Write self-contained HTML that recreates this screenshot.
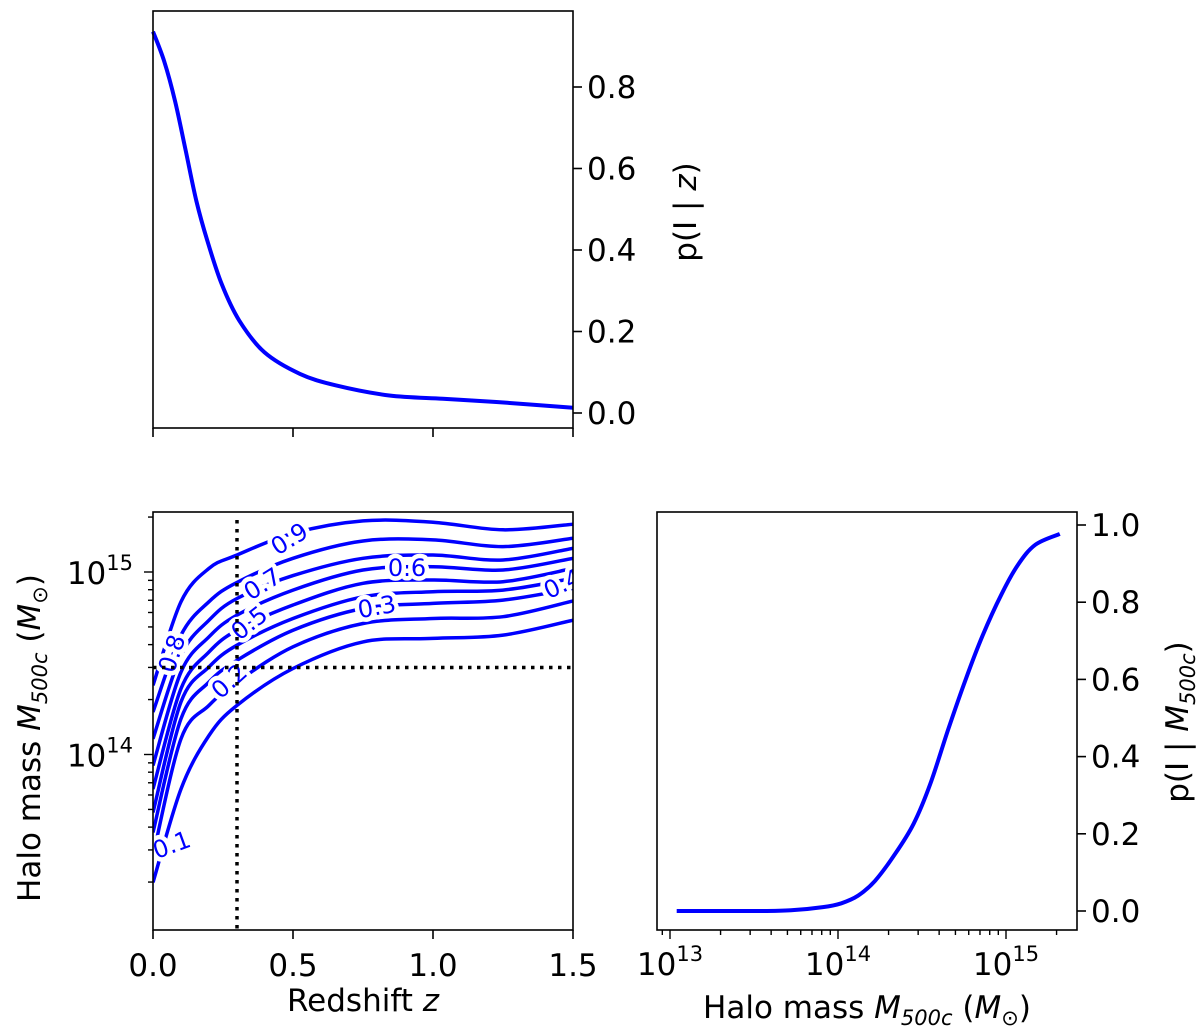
<!DOCTYPE html>
<html><head><meta charset="utf-8"><style>
html,body{margin:0;padding:0;background:#fff;}
svg{display:block;font-family:"DejaVu Sans","Liberation Sans",sans-serif;}
</style></head><body>
<svg id="fig" width="1200" height="1031" viewBox="0 0 1200 1031"></svg>
<script>
// ---- data ----
const topZ = [0,0.04,0.079,0.117,0.155,0.194,0.245,0.308,0.398,0.525,0.652,0.844,1.035,1.226,1.5];
const topP = [0.936,0.863,0.765,0.643,0.52,0.423,0.317,0.227,0.149,0.096,0.068,0.043,0.035,0.027,0.013];
const massLog = [13.04,13.5,13.72,13.91,14.02,14.12,14.22,14.34,14.45,14.55,14.655,14.76,14.86,14.97,15.07,15.175,15.32];
const massP = [0,0,0.002,0.01,0.02,0.04,0.078,0.148,0.226,0.33,0.469,0.6,0.713,0.818,0.896,0.949,0.977];
const contourLevels = [0.9,0.8,0.7,0.6,0.5,0.4,0.3,0.2,0.1];
const contourZ = [0,0.1,0.2,0.3,0.5,0.75,1.0,1.25,1.5];
const c09 = [14.379,14.837,15.020,15.093,15.212,15.280,15.273,15.231,15.262];
const c08 = [14.233,14.654,14.837,14.943,15.075,15.170,15.176,15.139,15.185];
const c07 = [14.086,14.544,14.736,14.855,14.980,15.075,15.093,15.066,15.130];
const c06 = [13.940,14.452,14.645,14.764,14.901,15.011,15.029,15.011,15.075];
const c05 = [13.811,14.361,14.562,14.681,14.819,14.938,14.956,14.947,15.020];
const c04 = [13.683,14.288,14.480,14.599,14.745,14.864,14.892,14.901,14.965];
const c03 = [13.573,14.196,14.397,14.516,14.681,14.800,14.828,14.846,14.910];
const c02 = [13.445,14.086,14.269,14.397,14.590,14.718,14.745,14.755,14.841];
const c01 = [13.299,13.811,14.104,14.269,14.471,14.617,14.636,14.654,14.736];
const contourMasses = [c09,c08,c07,c06,c05,c04,c03,c02,c01];
const cutZ = 0.3, cutLogM = 14.477;
const zTicks = [0,0.5,1.0,1.5];
const zTickLabels = ['0.0','0.5','1.0','1.5'];
const pTicksTop = [0,0.2,0.4,0.6,0.8];
const pTicksRight = [0,0.2,0.4,0.6,0.8,1.0];
const decadesLeft = [14,15];
const decadesRight = [13,14,15];

const NS='http://www.w3.org/2000/svg';
const svg=document.getElementById('fig');
function el(tag,attrs,parent){const e=document.createElementNS(NS,tag);for(const k in attrs)e.setAttribute(k,attrs[k]);(parent||svg).appendChild(e);return e;}
const FS=31, SS=21;

const L={x0:153,x1:573,y0:512,y1:930};
const T={x0:153,x1:573,y0:11,y1:428};
const R={x0:657,x1:1077,y0:512,y1:930};
const xz=z=>L.x0+(z/1.5)*(L.x1-L.x0);
const yLogL=m=>572-(m-15)*182.5;
const yTop=p=>413-p*407.5;
const xLogR=m=>670+(m-13)*168;
const yR=p=>911-p*386;

function smooth(pts){
  let d='M'+pts[0][0].toFixed(1)+','+pts[0][1].toFixed(1);
  for(let i=0;i<pts.length-1;i++){
    const p0=pts[Math.max(0,i-1)],p1=pts[i],p2=pts[i+1],p3=pts[Math.min(pts.length-1,i+2)];
    const c1=[p1[0]+(p2[0]-p0[0])/6,p1[1]+(p2[1]-p0[1])/6];
    const c2=[p2[0]-(p3[0]-p1[0])/6,p2[1]-(p3[1]-p1[1])/6];
    d+=' C'+c1[0].toFixed(1)+','+c1[1].toFixed(1)+' '+c2[0].toFixed(1)+','+c2[1].toFixed(1)+' '+p2[0].toFixed(1)+','+p2[1].toFixed(1);
  }
  return d;
}
function text(x,y,s,attrs,name){const t=el('text',Object.assign({x:x,y:y,'font-size':FS,fill:'#000'},attrs||{}));t.innerHTML=s;


return t;}
const massTitle='Halo mass <tspan font-style="italic">M</tspan><tspan font-size="'+SS+'" dy="7" font-style="italic">500c</tspan><tspan dy="-7"> (</tspan><tspan font-style="italic">M</tspan><tspan font-size="'+SS+'" dy="7">⊙</tspan><tspan dy="-7">)</tspan>';

const defs=el('defs',{});
const cp=el('clipPath',{id:'clipL'},defs);el('rect',{x:L.x0,y:L.y0,width:L.x1-L.x0,height:L.y1-L.y0},cp);

// ---- top panel ----
const gT=el('g',{});


const topLine=el('path',{d:smooth(topZ.map((z,i)=>[xz(z),yTop(topP[i])])),fill:'none',stroke:'#0000ff','stroke-width':4},gT);


const fT=el('rect',{x:T.x0,y:T.y0,width:T.x1-T.x0,height:T.y1-T.y0,fill:'none',stroke:'#000','stroke-width':1.6},gT);


zTicks.forEach(z=>{el('line',{x1:xz(z),x2:xz(z),y1:T.y1,y2:T.y1+9,stroke:'#000','stroke-width':1.6},gT);});
pTicksTop.forEach(p=>{const y=yTop(p);el('line',{x1:T.x1,x2:T.x1+9,y1:y,y2:y,stroke:'#000','stroke-width':1.6},gT);
text(T.x1+14,y+11,p.toFixed(1),{},'top-y-tick-label');});
text(0,0,'p(I | <tspan font-style="italic">z</tspan>)',{transform:'translate(696,212) rotate(-90)','text-anchor':'middle'},'top-y-axis-title');

// ---- bottom-left contour panel ----
const gL=el('g',{});


const gC=el('g',{'clip-path':'url(#clipL)'},gL);
contourMasses.forEach((arr,k)=>{
  const p=el('path',{d:smooth(contourZ.map((z,i)=>[xz(z),yLogL(arr[i])])),fill:'none',stroke:'#0000ff','stroke-width':3.5},gC);
  
  
});
const labs=[['0.9',290,540,-32],['0.8',173,654,-72],['0.7',263,585,-32],['0.6',407,569,0],['0.5',250,624,-38],['0.3',377,608,-10],['0.2',230,682,-42],['0.1',172,846,-20],['0.4',563,585,-25]];
labs.forEach(l=>{
  const t=el('text',{x:0,y:0,transform:`translate(${l[1]},${l[2]}) rotate(${l[3]})`,'text-anchor':'middle','dominant-baseline':'middle','font-size':24,fill:'#0000ff',stroke:'#fff','stroke-width':9,'paint-order':'stroke','stroke-linejoin':'round'},gC);
  t.textContent=l[0];
  
  
});
const vd=el('line',{x1:xz(cutZ),x2:xz(cutZ),y1:L.y0+8,y2:L.y1,stroke:'#000','stroke-width':3.5,'stroke-dasharray':'3.5,5.5'},gL);


const hd=el('line',{x1:L.x0,x2:L.x1,y1:yLogL(cutLogM),y2:yLogL(cutLogM),stroke:'#000','stroke-width':3.5,'stroke-dasharray':'3.5,5.5'},gL);


const fL=el('rect',{x:L.x0,y:L.y0,width:L.x1-L.x0,height:L.y1-L.y0,fill:'none',stroke:'#000','stroke-width':1.6},gL);


zTicks.forEach((z,i)=>{el('line',{x1:xz(z),x2:xz(z),y1:L.y1,y2:L.y1+9,stroke:'#000','stroke-width':1.6},gL);
text(xz(z),L.y1+46,zTickLabels[i],{'text-anchor':'middle'},'x-tick-label');});
for(let e=13;e<=15;e++){for(let m=1;m<10;m++){const v=e+Math.log10(m);const y=yLogL(v);if(y<L.y0||y>L.y1)continue;
el('line',{x1:L.x0,x2:L.x0-(m===1?9:5),y1:y,y2:y,stroke:'#000','stroke-width':1.4},gL);}}
decadesLeft.forEach(d=>{const y=yLogL(d);text(L.x0-20,y+12,'10<tspan dy="-14" font-size="'+SS+'">'+d+'</tspan>',{'text-anchor':'end'},'y-tick-label');});
text(0,0,massTitle,{transform:'translate(40,738) rotate(-90)','text-anchor':'middle'},'y-axis-title');
text(363,1011,'Redshift <tspan font-style="italic">z</tspan>',{'text-anchor':'middle'},'x-axis-title');

// ---- bottom-right panel ----
const gR=el('g',{});


const mLine=el('path',{d:smooth(massLog.map((m,i)=>[xLogR(m),yR(massP[i])])),fill:'none',stroke:'#0000ff','stroke-width':4},gR);


const fR=el('rect',{x:R.x0,y:R.y0,width:R.x1-R.x0,height:R.y1-R.y0,fill:'none',stroke:'#000','stroke-width':1.6},gR);


for(let e=12;e<=15;e++){for(let m=1;m<10;m++){const v=e+Math.log10(m);const x=xLogR(v);if(x<R.x0||x>R.x1)continue;
el('line',{x1:x,x2:x,y1:R.y1,y2:R.y1+(m===1?9:5),stroke:'#000','stroke-width':1.4},gR);}}
decadesRight.forEach(d=>{const x=xLogR(d);text(x,R.y1+45,'10<tspan dy="-14" font-size="'+SS+'">'+d+'</tspan>',{'text-anchor':'middle'},'x-tick-label');});
pTicksRight.forEach(p=>{const y=yR(p);el('line',{x1:R.x1,x2:R.x1+9,y1:y,y2:y,stroke:'#000','stroke-width':1.6},gR);
text(R.x1+14,y+11,p.toFixed(1),{},'right-y-tick-label');});
text(0,0,'p(I | <tspan font-style="italic">M</tspan><tspan font-size="'+SS+'" dy="7" font-style="italic">500c</tspan><tspan dy="-7">)</tspan>',{transform:'translate(1188,722) rotate(-90)','text-anchor':'middle'},'right-y-axis-title');
text(867,1018,massTitle,{'text-anchor':'middle'},'mass-x-axis-title');
</script>
</body></html>
